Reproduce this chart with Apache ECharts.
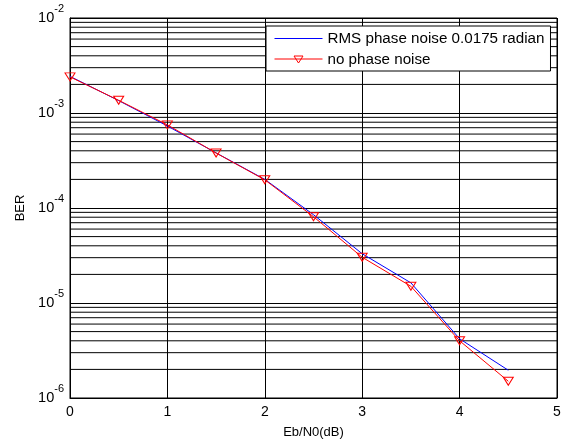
<!DOCTYPE html>
<html><head><meta charset="utf-8">
<script src="https://cdn.jsdelivr.net/npm/echarts@6/dist/echarts.min.js"></script>
<style>html,body{margin:0;padding:0;background:#fff}#c{width:561px;height:444px}</style>
</head><body><div id="c"></div>
<script>
const ebn0 = [0, 0.5, 1, 1.5, 2, 2.5, 3, 3.5, 4, 4.5];
const berPhaseNoise = [2.43e-3, 1.35e-3, 7.3e-4, 3.8e-4, 2.0e-4, 8.5e-5, 3.3e-5, 1.63e-5, 4.2e-6, 1.96e-6];
const berNoPhaseNoise = [2.4e-3, 1.36e-3, 7.5e-4, 3.79e-4, 1.98e-4, 8.1e-5, 3.03e-5, 1.5e-5, 4.0e-6, 1.5e-6];
const seriesNames = ['RMS phase noise 0.0175 radian', 'no phase noise'];
const xTickMin = 0, xTickMax = 5, xTickStep = 1;
const yDecadeMin = -6, yDecadeMax = -2;
const minorMultipliers = [2, 3, 4, 5, 6, 7, 8, 9];

// minor (log) grid lines as broken polyline across the full x range
const minorGridData = [];
for (let d = yDecadeMin; d < yDecadeMax; d++) {
  minorMultipliers.forEach(m => {
    const v = m * Math.pow(10, d);
    minorGridData.push([xTickMin, v], [xTickMax, v], [xTickMax, '-']);
  });
}

const chart = echarts.init(document.getElementById('c'), null, { renderer: 'canvas' });
const font = 'Liberation Sans, Arial, sans-serif';
chart.setOption({
  animation: false,
  backgroundColor: '#fff',
  grid: {
    left: 70, right: 4, top: 18, bottom: 46,
    outerBoundsMode: 'none', containLabel: false,
    show: true, borderColor: '#000', borderWidth: 1, backgroundColor: '#fff'
  },
  legend: {
    data: [
      { name: seriesNames[0], itemStyle: { opacity: 0 } },
      {
        name: seriesNames[1],
        icon: 'path://M0,3L48,3M19.5,0L28.5,0L24,7Z',
        itemStyle: { color: 'rgba(255,255,255,0)', borderColor: '#ff0000', borderWidth: 1 }
      }
    ],
    orient: 'vertical',
    left: 266, top: 26,
    padding: [5, 6, 4, 8],
    itemWidth: 48, itemHeight: 7, itemGap: 6,
    backgroundColor: '#fff', borderColor: '#000', borderWidth: 1,
    lineStyle: { width: 1 },
    textStyle: { fontFamily: font, fontSize: 15.2, lineHeight: 15, color: '#000' },
    selectedMode: false
  },
  xAxis: {
    type: 'value', min: xTickMin, max: xTickMax, interval: xTickStep,
    name: 'Eb/N0(dB)', nameLocation: 'middle', nameGap: 28,
    nameTextStyle: { fontFamily: font, fontSize: 13, color: '#000' },
    axisLine: { lineStyle: { color: '#000', width: 1 } },
    axisTick: { inside: true, length: 4, lineStyle: { color: '#000' } },
    axisLabel: { fontFamily: font, fontSize: 14, color: '#000', margin: 7 },
    splitLine: { show: true, lineStyle: { color: '#000', width: 1, type: 'solid' } }
  },
  yAxis: {
    type: 'log', logBase: 10, min: Math.pow(10, yDecadeMin), max: Math.pow(10, yDecadeMax),
    name: 'BER', nameLocation: 'middle', nameGap: 43,
    nameTextStyle: { fontFamily: font, fontSize: 13, color: '#000' },
    axisLine: { show: true, lineStyle: { color: '#000', width: 1 } },
    axisTick: { inside: true, length: 4, lineStyle: { color: '#000' } },
    axisLabel: {
      margin: 6,
      formatter: v => '{b|10}{s|' + Math.round(Math.log10(v)) + '}',
      rich: {
        b: { fontFamily: font, fontSize: 14.5, color: '#000' },
        s: { fontFamily: font, fontSize: 11, color: '#000', verticalAlign: 'top', padding: [0, 0, 18, 0] }
      }
    },
    splitLine: { show: true, lineStyle: { color: '#000', width: 1, type: 'solid' } }
  },
  series: [
    {
      name: 'minor-grid', type: 'line', data: minorGridData, showSymbol: false, symbol: 'none',
      silent: true, z: 1, connectNulls: false,
      lineStyle: { color: '#000', width: 1 },
      emphasis: { disabled: true }
    },
    {
      name: seriesNames[0], type: 'line', z: 3,
      data: ebn0.map((x, i) => [x, berPhaseNoise[i]]),
      symbol: 'none', showSymbol: false,
      lineStyle: { color: '#0000ff', width: 1 },
      itemStyle: { color: '#0000ff' }
    },
    {
      name: seriesNames[1], type: 'line', z: 4,
      data: ebn0.map((x, i) => [x, berNoPhaseNoise[i]]),
      symbol: 'triangle', symbolRotate: 180, symbolSize: [10, 8],
      lineStyle: { color: '#ff0000', width: 1 },
      itemStyle: { color: 'rgba(255,255,255,0)', borderColor: '#ff0000', borderWidth: 1 }
    }
  ]
});
</script>
</body></html>
